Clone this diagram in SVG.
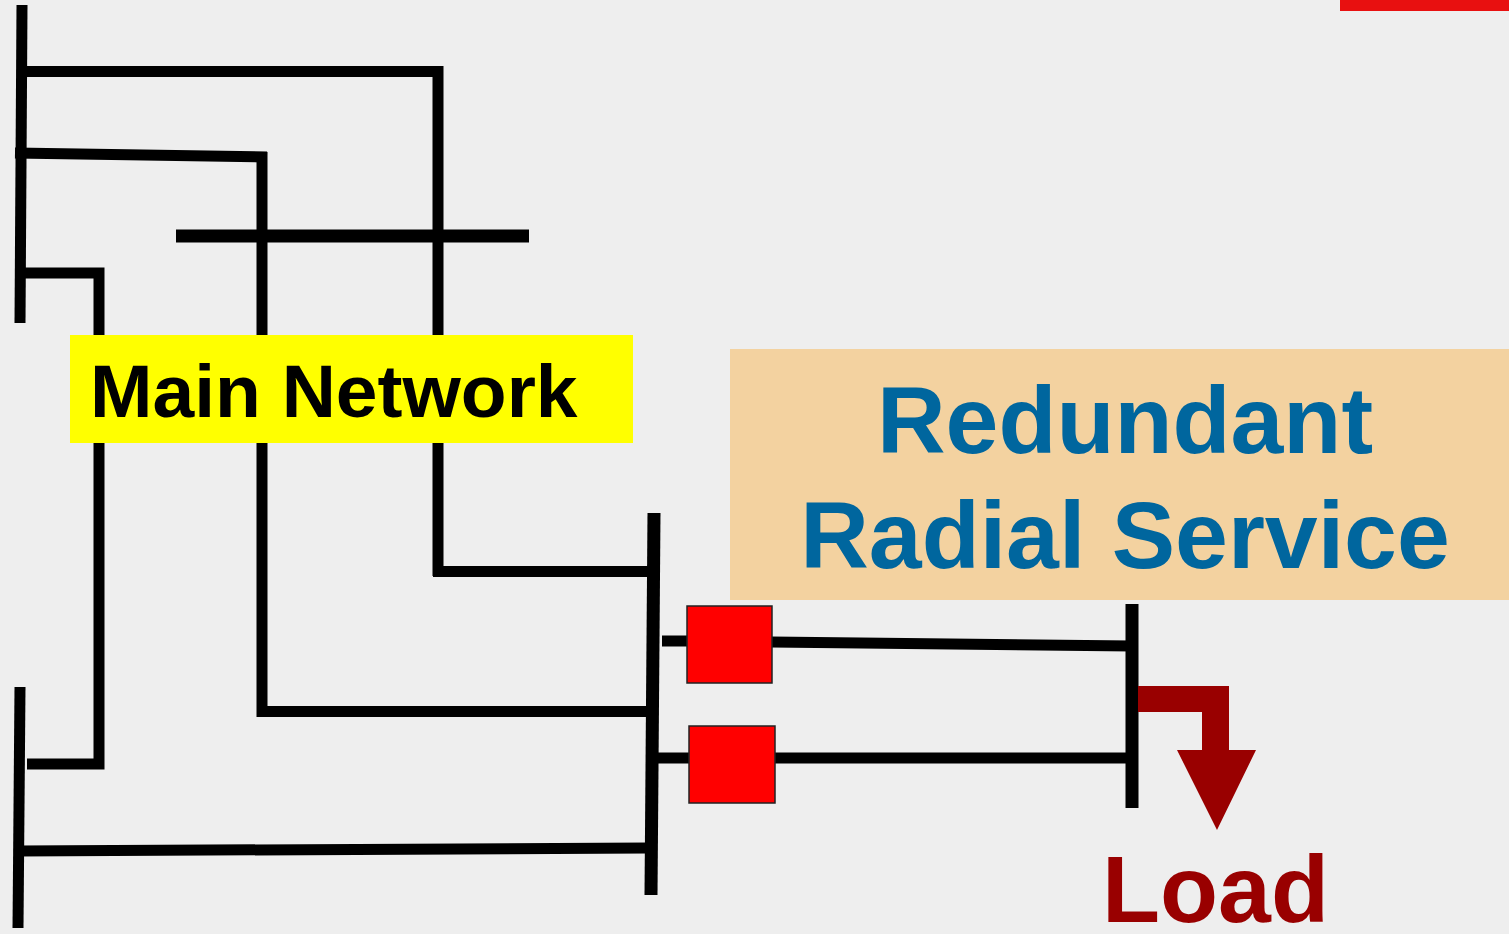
<svg xmlns="http://www.w3.org/2000/svg" width="1509" height="934" viewBox="0 0 1509 934">
<style>
.ln{stroke:#000;stroke-width:11;fill:none;stroke-linecap:butt}
.bus{stroke:#000;stroke-width:13;fill:none}
.brk{fill:#FF0000;stroke:#222;stroke-width:1.5}
.t{font-family:"Liberation Sans",Arial,sans-serif;font-weight:bold}
</style>
<rect x="0" y="0" width="1509" height="934" fill="#EEEEEE"/>
<rect x="1340" y="0" width="169" height="11" fill="#E81010"/>
<g id="connectors">
<path class="ln" d="M27 71.5 H438 V576"/>
<path class="ln" d="M433 571.5 H648"/>
<path class="ln" d="M15 153 L267 157"/>
<path class="ln" d="M262 152 V711.5 H648"/>
<path class="bus" d="M176 236 H529"/>
<path class="ln" d="M21 273 H99 V764 H27"/>
<path class="ln" d="M19 851 L648 848"/>
<path class="ln" d="M662 641 H688"/>
<path class="ln" d="M771 642 L1132 646"/>
<path class="ln" d="M653 758 H690"/>
<path class="ln" d="M774 758 H1132"/>
</g>
<g id="bus-top-left"><path class="ln" d="M22 5 L20 323"/></g>
<g id="bus-bottom-left"><path class="ln" d="M20 687 L18 928"/></g>
<g id="bus-main"><path class="bus" d="M654 513 L651 895"/></g>
<g id="bus-load"><path class="bus" d="M1132 604 V808"/></g>
<g id="breaker-1"><rect class="brk" x="687" y="606" width="85" height="77"/></g>
<g id="breaker-2"><rect class="brk" x="689" y="726" width="86" height="77"/></g>
<g id="main-network">
<rect x="70" y="335" width="563" height="108" fill="#FFFF00"/>
<text class="t" x="90" y="417" font-size="75" fill="#000">Main Network</text>
</g>
<g id="redundant-radial">
<rect x="730" y="349" width="779" height="251" fill="#F3D2A0"/>
<text class="t" x="1125" y="453" font-size="95" fill="#00669E" text-anchor="middle">Redundant</text>
<text class="t" x="1125" y="568" font-size="95" fill="#00669E" text-anchor="middle">Radial Service</text>
</g>
<g id="load">
<path d="M1138 686 H1229 V750 H1256 L1217 830 L1177 750 H1202 V712 H1138 Z" fill="#990000"/>
<text class="t" x="1102" y="922" font-size="95" fill="#990000">Load</text>
</g>
</svg>
